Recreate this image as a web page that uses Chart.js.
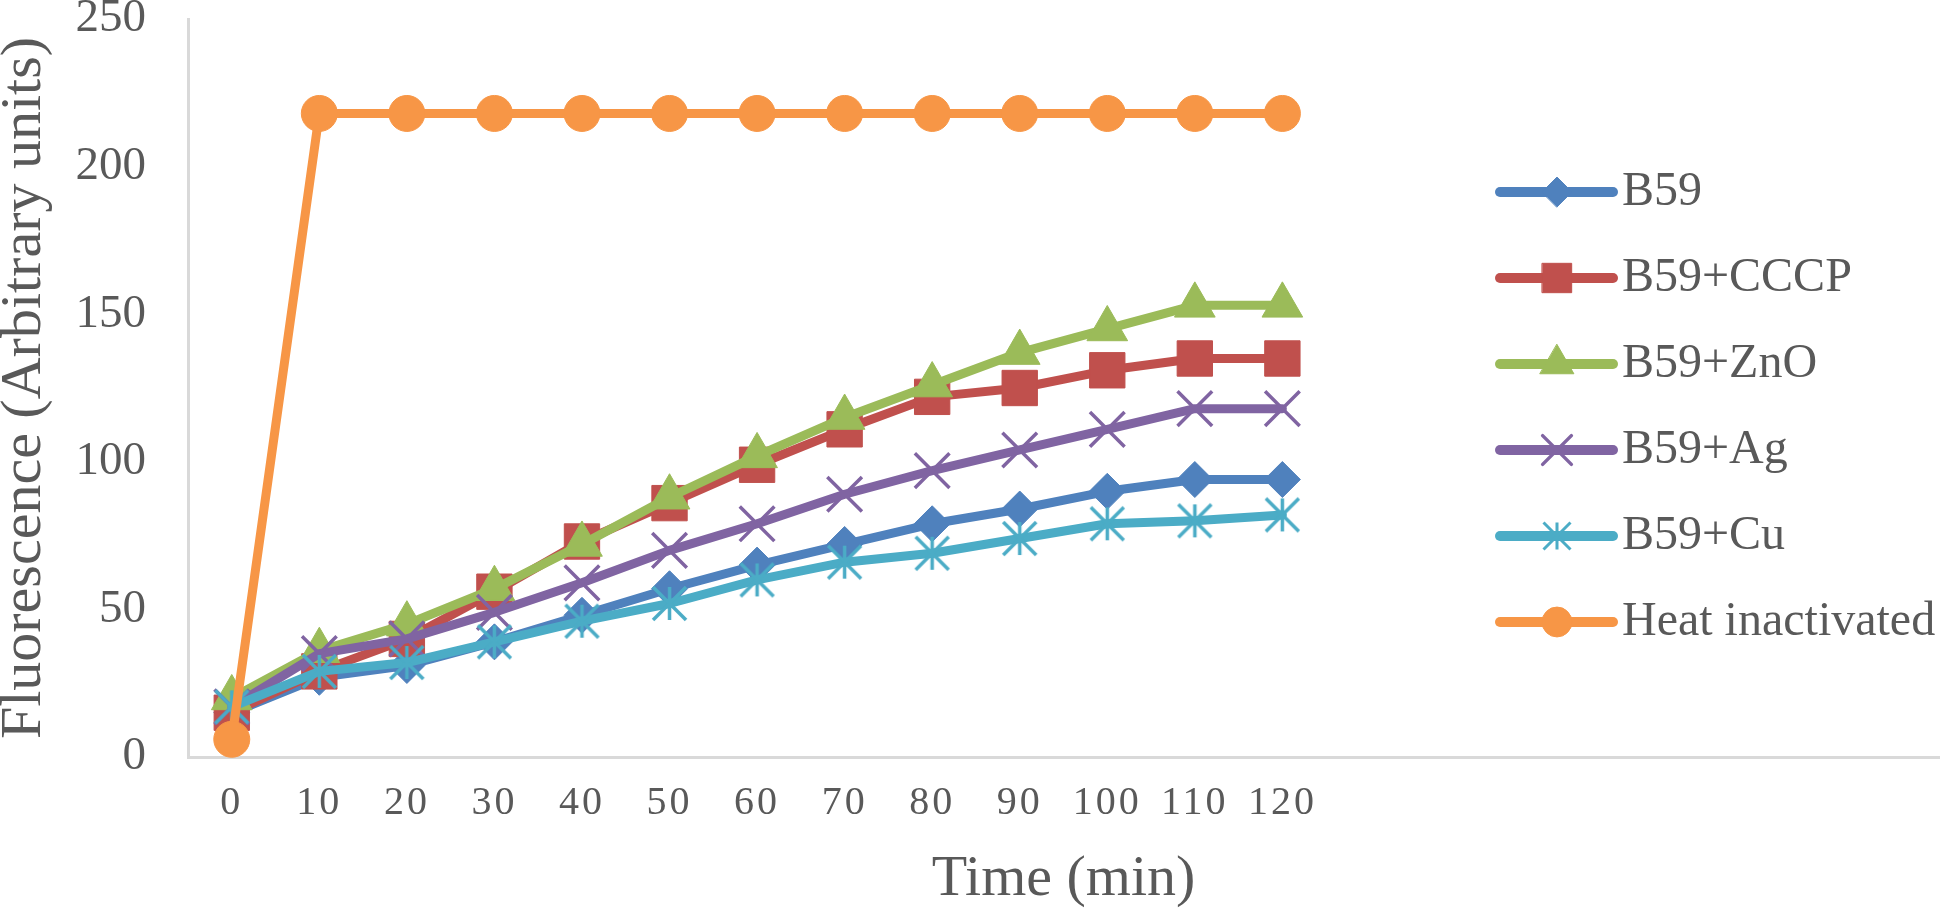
<!DOCTYPE html>
<html>
<head>
<meta charset="utf-8">
<script src="https://cdn.jsdelivr.net/npm/chart.js@4.4.1/dist/chart.umd.min.js"></script>
<style>
  html, body { margin: 0; padding: 0; background: #ffffff; }
  #wrap { width: 1943px; height: 918px; }
</style>
</head>
<body>
<div id="wrap"><canvas id="c" width="1943" height="918"></canvas></div>
<script>
// ---------------- data ----------------
const timeLabels = ['0', '10', '20', '30', '40', '50', '60', '70', '80', '90', '100', '110', '120'];
const emptySlots = ['', '', '', '', '', '', ''];   // unused category slots on the axis
const seriesNames = ['B59', 'B59+CCCP', 'B59+ZnO', 'B59+Ag', 'B59+Cu', 'Heat inactivated'];
const b59      = [15, 27, 31, 39, 48, 57, 65, 72, 79, 84, 90, 94, 94];
const b59CCCP  = [15, 29, 40, 56, 73, 86, 99, 111, 122, 125, 131, 135, 135];
const b59ZnO   = [20, 36, 45, 57, 72, 88, 102, 115, 126, 137, 145, 153, 153];
const b59Ag    = [17, 35, 40, 49, 59, 70, 79, 89, 97, 104, 111, 118, 118];
const b59Cu    = [17, 29, 32, 39, 46, 52, 60, 66, 69, 74, 79, 80, 82];
const heatInactivated = [6, 218, 218, 218, 218, 218, 218, 218, 218, 218, 218, 218, 218];
const yTicks = [0, 50, 100, 150, 200, 250];

// ---------------- styles ----------------
const FONT = "'Liberation Serif', 'Times New Roman', serif";
const TXT = '#595959';
const COLORS = ['#4F81BD', '#C0504D', '#9BBB59', '#8064A2', '#4BACC6', '#F79646'];

function makeAsterisk(color, size, lw) {
  const c = document.createElement('canvas');
  const s = Math.ceil(size + lw + 2);
  c.width = s; c.height = s;
  const g = c.getContext('2d');
  const m = s / 2, h = size / 2;
  g.strokeStyle = color; g.lineWidth = lw; g.lineCap = 'butt';
  g.beginPath();
  g.moveTo(m, m - h); g.lineTo(m, m + h);
  g.moveTo(m - h, m - h); g.lineTo(m + h, m + h);
  g.moveTo(m + h, m - h); g.lineTo(m - h, m + h);
  g.stroke();
  return c;
}
const starBig = makeAsterisk(COLORS[4], 33, 3.5);
const starSmall = makeAsterisk(COLORS[4], 27, 3);

const seriesData = [b59, b59CCCP, b59ZnO, b59Ag, b59Cu, heatInactivated];
const markerStyles = ['rectRot', 'rect', 'triangle', 'crossRot', starBig, 'circle'];
const markerRadius = [18, 25, 23.5, 24.5, 18, 18];
const markerBorder = [1, 1, 1, 3.5, 1, 1];
const legendStyles = ['rectRot', 'rect', 'triangle', 'crossRot', starSmall, 'circle'];

const datasets = seriesNames.map((name, i) => ({
  label: name,
  data: seriesData[i],
  borderColor: COLORS[i],
  backgroundColor: COLORS[i],
  borderWidth: 9,
  borderJoinStyle: 'round',
  borderCapStyle: 'round',
  pointStyle: markerStyles[i],
  pointRadius: markerRadius[i],
  pointHoverRadius: markerRadius[i],
  pointBackgroundColor: COLORS[i],
  pointBorderColor: COLORS[i],
  pointBorderWidth: markerBorder[i],
  tension: 0,
  clip: false,
  order: seriesNames.length - 1 - i
}));

// custom Excel-like legend (line + marker + text), drawn over the plot area
const legendPlugin = {
  id: 'excelLegend',
  afterDraw(chart) {
    const ctx = chart.ctx;
    const x1 = 1500, x2 = 1613, xm = 1557, xt = 1622, y0 = 192, dy = 86;
    chart.data.datasets.forEach((ds, i) => {
      const y = y0 + i * dy;
      ctx.save();
      ctx.strokeStyle = ds.borderColor;
      ctx.lineWidth = 10;
      ctx.lineCap = 'round';
      ctx.beginPath(); ctx.moveTo(x1, y); ctx.lineTo(x2, y); ctx.stroke();
      ctx.fillStyle = ds.pointBackgroundColor;
      ctx.strokeStyle = ds.pointBorderColor;
      ctx.lineWidth = ds.pointBorderWidth;
      Chart.helpers.drawPoint(ctx, {
        pointStyle: legendStyles[i],
        rotation: 0,
        radius: ds.pointRadius * 0.83,
        borderWidth: ds.pointBorderWidth
      }, xm, y);
      ctx.fillStyle = TXT;
      ctx.font = '48px ' + FONT;
      ctx.textAlign = 'left';
      ctx.textBaseline = 'middle';
      ctx.fillText(ds.label, xt, y);
      ctx.restore();
    });
  }
};

new Chart(document.getElementById('c'), {
  type: 'line',
  data: { labels: timeLabels.concat(emptySlots), datasets },
  options: {
    responsive: false,
    animation: false,
    events: [],
    layout: { autoPadding: false, padding: { top: 19, right: 4, left: 0, bottom: 0 } },
    plugins: { legend: { display: false }, tooltip: { enabled: false } },
    scales: {
      x: {
        type: 'category',
        offset: true,
        grid: { display: true, color: 'rgba(0,0,0,0)', drawTicks: false },
        border: { display: true, color: '#d9d9d9', width: 3 },
        ticks: {
          autoSkip: false, maxRotation: 0, minRotation: 0, padding: 22,
          color: TXT, font: { family: FONT, size: 40 }
        },
        title: {
          display: true, text: 'Time (min)', color: TXT,
          font: { family: FONT, size: 58, lineHeight: 1.2 },
          padding: { top: 0, bottom: 3 }
        },
        afterFit(s) {
          s.height = 161; s.paddingLeft = 0; s.paddingRight = 0;
          if (!s._spacedLabels) {
            const orig = s.drawLabels;
            s.drawLabels = function (area) {
              const ctx = this.ctx;
              ctx.save();
              ctx.letterSpacing = '3px';
              orig.call(this, area);
              ctx.restore();
            };
            s._spacedLabels = true;
          }
        }
      },
      y: {
        min: yTicks[0], max: yTicks[yTicks.length - 1],
        grid: { display: true, color: 'rgba(0,0,0,0)', drawTicks: false },
        border: { display: true, color: '#d9d9d9', width: 3 },
        afterBuildTicks(s) { s.ticks = yTicks.map(v => ({ value: v })); },
        ticks: { padding: 42, color: TXT, font: { family: FONT, size: 47 } },
        title: {
          display: true, text: 'Fluorescence (Arbitrary units)', color: TXT,
          font: { family: FONT, size: 58, lineHeight: 0.86 },
          padding: { top: 0, bottom: 0 }
        },
        afterFit(s) { s.width = 188; s.paddingTop = 0; s.paddingBottom = 0; }
      }
    }
  },
  plugins: [legendPlugin]
});
</script>
</body>
</html>
